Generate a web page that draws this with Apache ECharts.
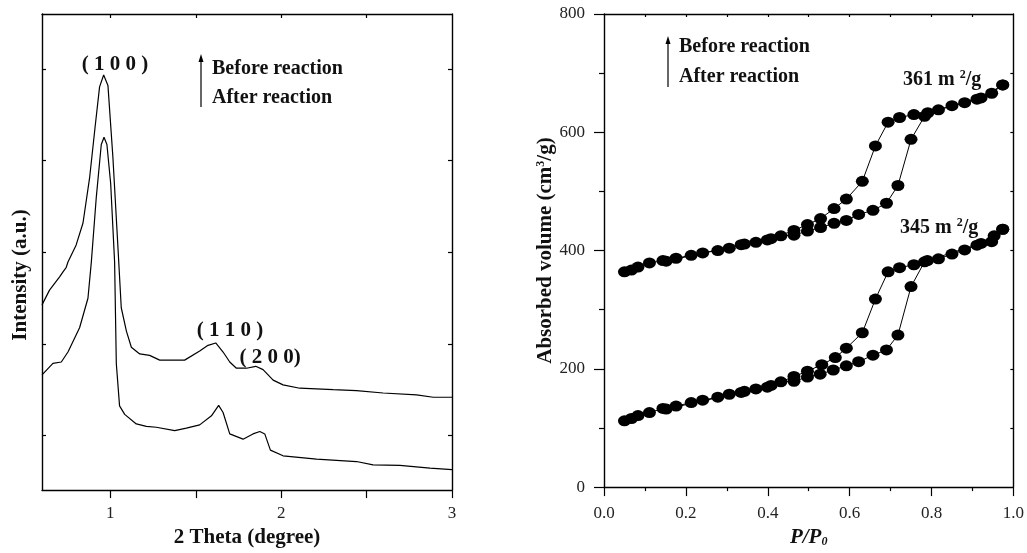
<!DOCTYPE html>
<html>
<head>
<meta charset="utf-8">
<script src="https://cdn.jsdelivr.net/npm/echarts@6/dist/echarts.min.js"></script>
<style>html,body{margin:0;padding:0;background:#fff}#c{width:1027px;height:553px}</style>
</head>
<body>
<div id="c"></div>
<script>
// ---------- Left panel: XRD patterns ----------
const xrdBeforeX = [0.6,0.644,0.703,0.722,0.742,0.752,0.80,0.840,0.879,0.91,0.937,0.961,0.986,1.015,1.045,1.064,1.094,1.123,1.172,1.230,1.289,1.347,1.435,1.523,1.572,1.617,1.660,1.699,1.738,1.797,1.851,1.894,1.953,2.011,2.109,2.304,2.441,2.597,2.793,2.890,3.0];
const xrdBeforeY = [38.9,42.0,44.8,45.8,46.8,47.9,51.5,56.1,65.7,76.0,84.7,87.2,85.0,69.9,50.7,38.3,33.4,30.0,28.6,28.3,27.3,27.3,27.3,29.2,30.4,30.9,29.0,26.9,25.6,25.6,26.0,25.3,23.1,22.1,21.4,21.1,20.9,20.4,20.0,19.5,19.5];
const xrdAfterX = [0.6,0.664,0.713,0.752,0.820,0.869,0.889,0.918,0.947,0.963,0.980,1.002,1.025,1.035,1.054,1.084,1.152,1.211,1.269,1.377,1.445,1.523,1.592,1.634,1.660,1.699,1.777,1.835,1.875,1.904,1.937,2.011,2.207,2.441,2.538,2.695,2.871,3.0];
const xrdAfterY = [24.2,26.6,26.9,29.0,34.1,40.3,48.0,61.6,72.6,74.1,72.6,64.4,47.9,26.6,17.7,15.9,13.9,13.4,13.2,12.5,13.0,13.7,15.6,17.8,16.3,11.8,10.7,11.8,12.3,11.8,8.4,7.2,6.5,6.0,5.3,5.2,4.6,4.3];
const xrdTickValues = [1,1.5,2,2.5,3];
const xrdTickLabels = [1,2,3];
const intensityTicks = [11.5,30.7,49.9,69.2,88.4];

// ---------- Right panel: N2 isotherms ----------
const beforeAdsP = [0.050,0.067,0.083,0.111,0.144,0.176,0.213,0.241,0.278,0.306,0.343,0.371,0.408,0.432,0.464,0.497,0.529,0.562,0.592,0.622,0.657,0.690,0.718,0.750,0.783,0.817,0.850,0.881,0.911,0.947,0.974];
const beforeAdsV = [364,367,372,379,383,387,392,396,400,404,411,414,420,425,426,433,439,446,451,461,468,480,510,588,627,638,645,650,656,666,680];
const beforeDesP = [0.974,0.921,0.791,0.757,0.722,0.694,0.663,0.631,0.592,0.562,0.529,0.497,0.464,0.399,0.335,0.152];
const beforeDesV = [680,658,633,630,625,617,577,517,487,471,454,444,434,418,410,382];
const afterAdsP = [0.050,0.067,0.083,0.111,0.144,0.176,0.213,0.241,0.278,0.306,0.343,0.371,0.408,0.432,0.464,0.497,0.528,0.560,0.592,0.622,0.657,0.690,0.718,0.750,0.783,0.817,0.850,0.881,0.911,0.947,0.974];
const afterAdsV = [112,116,121,126,133,137,143,147,152,157,162,166,172,178,179,186,191,198,205,212,223,232,257,339,381,386,394,401,409,415,436];
const afterDesP = [0.974,0.953,0.921,0.790,0.757,0.722,0.694,0.663,0.631,0.592,0.565,0.532,0.497,0.464,0.399,0.335,0.152];
const afterDesV = [436,425,412,383,376,371,364,318,261,235,219,207,196,187,169,160,132];
const pTopTicks = [0.1,0.2,0.3,0.4,0.5,0.6,0.7,0.8,0.9];
const vRightTicks = [100,200,300,400,500,600,700];

const zip = (a, b) => a.map((v, i) => [v, b[i]]);
const SERIF = 'Liberation Serif';
const INK = '#111';

const chart = echarts.init(document.getElementById('c'), null, {renderer: 'canvas'});

const axLine = {show: true, onZero: false, lineStyle: {color: '#000', width: 1.4}};
const tickStyle = {color: '#000', width: 1.2};
const lbl = {color: '#222', fontFamily: SERIF, fontSize: 17};
const nameStyle = {color: INK, fontFamily: SERIF, fontSize: 21, fontWeight: 'bold'};

function isoSeries(p, v) {
  return {
    type: 'line', xAxisIndex: 2, yAxisIndex: 2, data: zip(p, v),
    symbol: 'circle', symbolSize: [13, 11], showSymbol: true,
    itemStyle: {color: '#000'}, lineStyle: {color: '#000', width: 1},
    emphasis: {disabled: true}
  };
}
function xrdSeries(x, y) {
  return {
    type: 'line', xAxisIndex: 0, yAxisIndex: 0, data: zip(x, y),
    showSymbol: false, symbol: 'none',
    lineStyle: {color: '#000', width: 1.2}, emphasis: {disabled: true}
  };
}

const option = {
  animation: false,
  backgroundColor: '#fff',
  grid: [
    {left: 42, top: 14, width: 410, height: 485},
    {left: 604, top: 14, width: 411, height: 482}
  ],
  xAxis: [
    {gridIndex: 0, type: 'value', min: 0.6, max: 3, position: 'bottom',
     axisLine: axLine,
     axisTick: {show: true, inside: false, length: 8, customValues: xrdTickValues, lineStyle: tickStyle},
     axisLabel: Object.assign({customValues: xrdTickLabels, margin: 15}, lbl),
     splitLine: {show: false},
     name: '2 Theta (degree)', nameLocation: 'middle', nameGap: 33, nameTextStyle: nameStyle},
    {gridIndex: 0, type: 'value', min: 0.6, max: 3, position: 'top',
     axisLine: axLine,
     axisTick: {show: true, inside: true, length: 4, customValues: [1,1.5,2,2.5], lineStyle: tickStyle},
     axisLabel: {show: false}, splitLine: {show: false}},
    {gridIndex: 1, type: 'value', min: 0, max: 1, interval: 0.2, position: 'bottom',
     axisLine: axLine,
     axisTick: {show: true, inside: false, length: 9, lineStyle: tickStyle},
     minorTick: {show: true, splitNumber: 2, length: 4, lineStyle: tickStyle},
     axisLabel: Object.assign({margin: 18, formatter: v => v.toFixed(1)}, lbl),
     splitLine: {show: false},
     name: 'P/P{sub|0}', nameLocation: 'middle', nameGap: 37,
     nameTextStyle: Object.assign({}, nameStyle, {fontStyle: 'italic',
       rich: {sub: {fontFamily: SERIF, fontSize: 12, fontWeight: 'bold', fontStyle: 'italic', color: INK, verticalAlign: 'bottom', padding: [8, 0, 0, 0]}}})},
    {gridIndex: 1, type: 'value', min: 0, max: 1, position: 'top',
     axisLine: axLine,
     axisTick: {show: true, inside: true, length: 3, customValues: pTopTicks, lineStyle: tickStyle},
     axisLabel: {show: false}, splitLine: {show: false}}
  ],
  yAxis: [
    {gridIndex: 0, type: 'value', min: 0, max: 100, position: 'left',
     axisLine: axLine,
     axisTick: {show: true, inside: true, length: 4, customValues: intensityTicks, lineStyle: tickStyle},
     axisLabel: {show: false}, splitLine: {show: false}},
    {gridIndex: 0, type: 'value', min: 0, max: 100, position: 'right',
     axisLine: axLine,
     axisTick: {show: true, inside: true, length: 4, customValues: intensityTicks, lineStyle: tickStyle},
     axisLabel: {show: false}, splitLine: {show: false}},
    {gridIndex: 1, type: 'value', min: 0, max: 800, interval: 200, position: 'left',
     axisLine: axLine,
     axisTick: {show: true, inside: false, length: 10, lineStyle: tickStyle},
     minorTick: {show: true, splitNumber: 2, length: 5, lineStyle: tickStyle},
     axisLabel: Object.assign({margin: 19}, lbl),
     splitLine: {show: false},
     name: 'Absorbed volume (cm{sup|3}/g)', nameLocation: 'middle', nameGap: 28,
     nameTextStyle: Object.assign({}, nameStyle, {
       rich: {sup: {fontFamily: SERIF, fontSize: 12, fontWeight: 'bold', color: INK, verticalAlign: 'top', padding: [0, 0, 8, 0]}}})},
    {gridIndex: 1, type: 'value', min: 0, max: 800, position: 'right',
     axisLine: axLine,
     axisTick: {show: true, inside: true, length: 3, customValues: vRightTicks, lineStyle: tickStyle},
     axisLabel: {show: false}, splitLine: {show: false}}
  ],
  series: [
    xrdSeries(xrdBeforeX, xrdBeforeY),
    xrdSeries(xrdAfterX, xrdAfterY),
    isoSeries(beforeAdsP, beforeAdsV),
    isoSeries(beforeDesP, beforeDesV),
    isoSeries(afterAdsP, afterAdsV),
    isoSeries(afterDesP, afterDesV)
  ]
};
chart.setOption(option);

// ---------- annotations ----------
const txt = (x, y, text, extra) => ({
  type: 'text', x: x, y: y, silent: true,
  style: Object.assign({text: text, fill: INK, font: 'bold 20px "Liberation Serif"', textAlign: 'left', textVerticalAlign: 'middle'}, extra || {})
});
function arrow(x, yTop, yBottom) {
  return [
    {type: 'line', silent: true, shape: {x1: x, y1: yBottom, x2: x, y2: yTop + 6}, style: {stroke: '#000', lineWidth: 1.2}},
    {type: 'polygon', silent: true, shape: {points: [[x, yTop], [x - 2.5, yTop + 8], [x + 2.5, yTop + 8]]}, style: {fill: '#000'}}
  ];
}
const supRich = {
  b: {font: 'bold 20px "Liberation Serif"', fill: INK},
  s: {font: 'bold 12px "Liberation Serif"', fill: INK, verticalAlign: 'top', padding: [0, 0, 10, 0]}
};
const elems = [].concat(
  [{type: 'text', x: 21, y: 275, rotation: Math.PI / 2, silent: true,
    style: {text: 'Intensity (a.u.)', fill: INK, font: 'bold 21px "Liberation Serif"', textAlign: 'center', textVerticalAlign: 'middle'}}],
  arrow(201, 54, 107),
  [txt(212, 69, 'Before reaction'), txt(212, 98, 'After reaction')],
  arrow(668, 36, 87),
  [txt(679, 47, 'Before reaction'), txt(679, 77, 'After reaction')],
  [txt(115, 65, '( 1 0 0 )', {textAlign: 'center', font: 'bold 21px "Liberation Serif"'}),
   txt(230, 331, '( 1 1 0 )', {textAlign: 'center', font: 'bold 21px "Liberation Serif"'}),
   txt(270, 358, '( 2 0 0)', {textAlign: 'center', font: 'bold 21px "Liberation Serif"'})],
  [{type: 'text', x: 903, y: 80, silent: true, style: {text: '{b|361 m }{s|2}{b|/g}', rich: supRich, textVerticalAlign: 'middle', textAlign: 'left'}},
   {type: 'text', x: 900, y: 228, silent: true, style: {text: '{b|345 m }{s|2}{b|/g}', rich: supRich, textVerticalAlign: 'middle', textAlign: 'left'}}]
);
chart.setOption({graphic: {elements: elems}});
</script>
</body>
</html>
